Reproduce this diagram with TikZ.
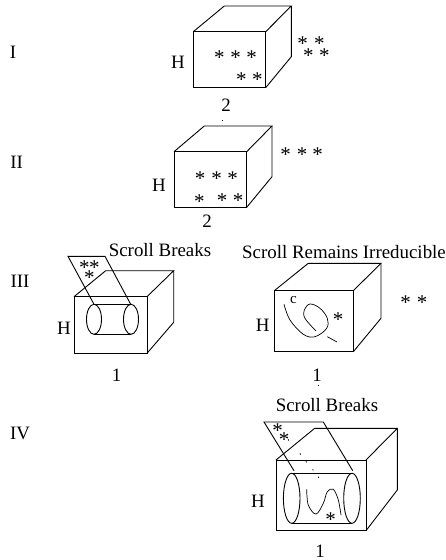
\documentclass[tikz,border=0pt]{standalone}
\usepackage{fontspec}
\setmainfont{Liberation Serif}
\usetikzlibrary{positioning}
\tikzset{
  boxline/.style={draw=black,line width=0.9pt,line join=miter},
  thinline/.style={draw=black,line width=0.7pt},
  txt/.style={font=\fontsize{18.9}{20}\selectfont,inner sep=0pt},
  starmark/.style={font=\fontsize{21}{22}\selectfont,inner sep=0pt,anchor=base,yshift=-11.7pt}
}
\begin{document}
\begin{tikzpicture}[x=1pt,y=-1pt]
\useasboundingbox (0,0) rectangle (446,560);
% row labels
\node[txt] (rowI) at (13,52.7) {I};
\node[txt] (rowII) at (16.7,162.7) {II};
\node[txt] (rowIII) at (20,281.7) {III};
\node[txt] (rowIV) at (20,433) {IV};
% cube I
\draw[boxline] (193.3,31.7) rectangle (265.7,87.7);
\draw[boxline] (193.3,31.7) -- (224.3,6) -- (291.3,6) -- (265.7,31.7);
\draw[boxline] (291.3,6) -- (291.3,56.7) -- (265.7,87.7);
\node[txt] (hI) at (178,62) {H};
\node[txt] (numI) at (226,105) {2};
\draw[thinline] (222,119.6) -- (222,120.4);
\foreach \x/\y in {219.3/52.7,235.7/52.7,251.7/52.7,241.3/75,257.3/75,302.7/39,319.3/39,308.3/51,324.3/51}
  \node[starmark] (starI\x) at (\x,\y) {*};
% cube II
\draw[boxline] (174,151.7) rectangle (246.7,207.3);
\draw[boxline] (174,151.7) -- (204.3,126) -- (272,126) -- (246.7,151.7);
\draw[boxline] (272,126) -- (272,176.7) -- (246.7,207.3);
\node[txt] (hII) at (159,185) {H};
\node[txt] (numII) at (207,221) {2};
\foreach \x/\y in {200/173.3,216.7/173.3,232.7/173.3,199.3/196.7,222/196,238/196,285.7/150,302/150,317.7/150}
  \node[starmark] (starII\x) at (\x,\y) {*};
% cube III left
\node[txt] (breaksA) at (160,250) {Scroll Breaks};
\draw[boxline] (74,296.7) rectangle (147,353.3);
\draw[boxline] (74,296.7) -- (105.7,270.7) -- (173.7,270.7) -- (147,296.7);
\draw[boxline] (173.7,270.7) -- (173.7,322.3) -- (147,353.3);
\draw[boxline] (94,304.3) -- (68,256.3) -- (105,256.3) -- (130.7,304.3);
\draw[boxline] (94,319.3) ellipse (7.5 and 15);
\draw[boxline] (131,319.3) ellipse (7.5 and 15);
\draw[boxline] (94,304.3) -- (131,304.3);
\draw[boxline] (94,334.3) -- (131,334.3);
\node[txt] (hIIIa) at (64,328.5) {H};
\node[txt] (numIIIa) at (116.7,375) {1};
\foreach \x/\y in {84.3/262.7,94.3/262.7,89.3/272.7}
  \node[starmark] (starIIIa\x) at (\x,\y) {*};
% cube III right
\node[txt] (remains) at (344,252) {Scroll Remains Irreducible};
\draw[boxline] (274.3,290.7) rectangle (353.3,351.7);
\draw[boxline] (274.3,290.7) -- (308.3,263.3) -- (381,263.3) -- (353.3,290.7);
\draw[boxline] (381,263.3) -- (381,318.3) -- (353.3,351.7);
\draw[thinline] plot[smooth,tension=0.6] coordinates {(284,304.3) (290,320) (303.3,334.3) (315,336.7) (326.7,328.3) (327.3,318.3) (320,308.3) (310,304) (304.3,310) (305,318.3) (316,331)};
\draw[thinline] (327.3,336.7) -- (337,342);
\node[font=\fontsize{15}{16}\selectfont,inner sep=0pt] (curveC) at (293.5,300) {c};
\node[txt] (hIIIb) at (262.7,325.7) {H};
\node[txt] (numIIIb) at (317,375) {1};
\draw[thinline] (318.7,385.3) -- (318.7,386.1);
\foreach \x/\y in {338/315,405.7/298,422/298}
  \node[starmark] (starIIIb\x) at (\x,\y) {*};
% cube IV
\node[txt] (breaksB) at (327,405) {Scroll Breaks};
\draw[boxline] (276,460) rectangle (366,530.7);
\draw[boxline] (276,460) -- (314.7,428.3) -- (397.3,428.3) -- (366,460);
\draw[boxline] (397.3,428.3) -- (397.3,490) -- (366,530.7);
\draw[boxline] (294,470.7) -- (264,422) -- (323.3,422) -- (352.7,470.7);
\draw[boxline] (291.7,498.3) ellipse (8.3 and 25);
\draw[boxline] (352,498.3) ellipse (8.3 and 25);
\draw[boxline] (291.7,473.3) -- (352,473.3);
\draw[boxline] (291.7,523.3) -- (352,523.3);
\draw[thinline] plot[smooth,tension=0.6] coordinates {(306.7,489.3) (308.3,505) (316,514) (323.3,503.3) (327.3,491.7) (333.3,489.3) (338.3,500) (341,515)};
\foreach \x/\y in {288.3/439.3,300/453.3,306/461,312.7/469,318.3/476.7}
  \draw[thinline] (\x,\y) -- ++(0.5,1.4);
\node[txt] (hIV) at (258,501.7) {H};
\node[txt] (numIV) at (320,551) {1};
\foreach \x/\y in {277.7/425.7,284/434.3,330.7/515}
  \node[starmark] (starIV\x) at (\x,\y) {*};
\end{tikzpicture}
\end{document}
